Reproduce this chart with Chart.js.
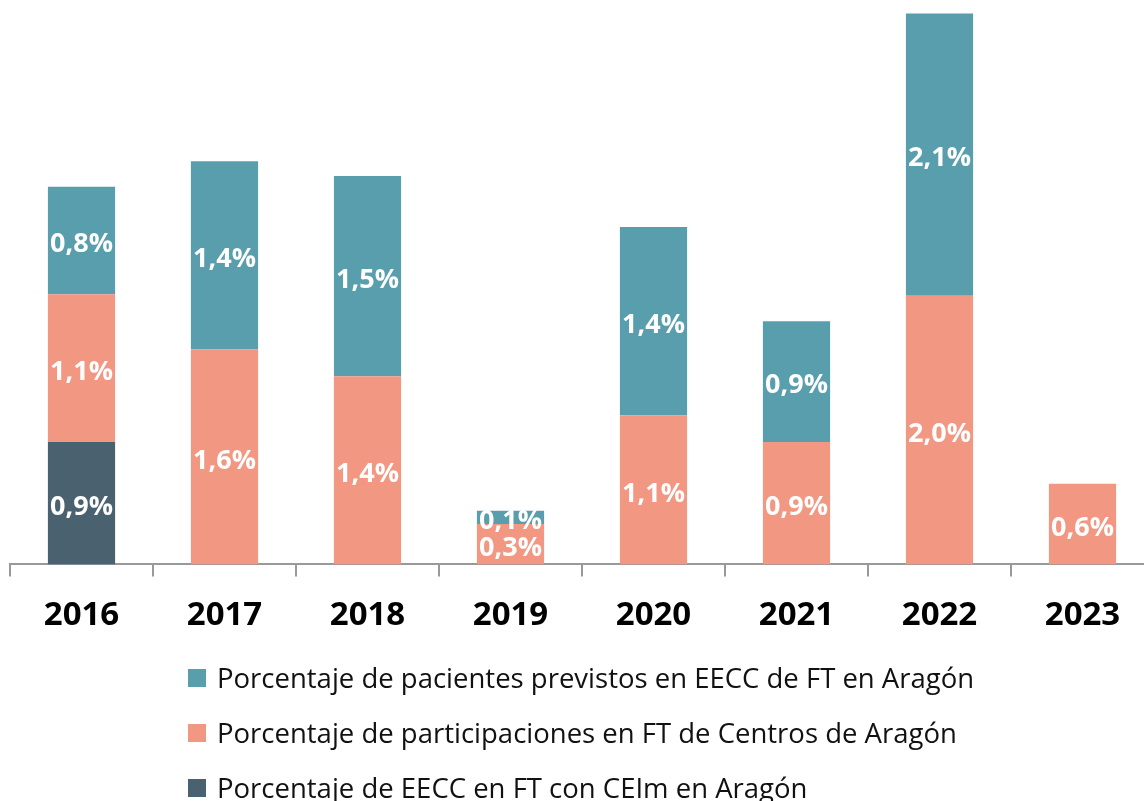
<!DOCTYPE html>
<html>
<head>
<meta charset="utf-8">
<script src="https://cdn.jsdelivr.net/npm/chart.js@4"></script>
<style>
  html, body { margin: 0; padding: 0; background: #fff; overflow: hidden; width: 1144px; height: 801px; }
  #wrap { position: absolute; left: 0; top: 0; width: 1154px; height: 663px; }
  #legend { position: absolute; left: 188px; top: 650px; font-family: "Open Sans", sans-serif; font-size: 27.5px; color: #111; }
  .item { height: 55px; display: flex; align-items: center; white-space: nowrap; }
  .box { width: 18px; height: 18px; margin-right: 11px; flex: none; }
</style>
</head>
<body>
<div id="wrap"><canvas id="barsChart" width="1154" height="663"></canvas></div>
<div id="legend"></div>
<script>
let years = ["2016", "2017", "2018", "2019", "2020", "2021", "2022", "2023"];
let ensayosCeim = [0.91, 0, 0, 0, 0, 0, 0, 0];
let participaciones = [1.10, 1.60, 1.40, 0.30, 1.11, 0.91, 2.00, 0.60];
let pacientes = [0.80, 1.40, 1.49, 0.10, 1.40, 0.90, 2.10, 0];

let labelsPlugin = {
  id: "segmentLabels",
  afterDatasetsDraw(chart) {
    let ctx = chart.ctx;
    ctx.save();
    ctx.font = "bold 27px 'Open Sans'";
    ctx.fillStyle = "#fff";
    ctx.textAlign = "center";
    ctx.textBaseline = "middle";
    chart.data.datasets.forEach((ds, i) => {
      chart.getDatasetMeta(i).data.forEach((bar, j) => {
        let v = ds.data[j];
        if (!v) return;
        let txt = v.toFixed(1).replace(".", ",") + "%";
        ctx.fillText(txt, bar.x, (bar.y + bar.base) / 2 + 4);
      });
    });
    ctx.restore();
  },
};

let barsCtx = document.getElementById("barsChart").getContext("2d");
let barsChart = new Chart(barsCtx, {
  type: "bar",
  plugins: [labelsPlugin],
  data: {
    labels: years,
    datasets: [
      {
        label: "Porcentaje de EECC en FT con CEIm en Aragón",
        backgroundColor: "#4A6170",
        data: ensayosCeim,
      },
      {
        label: "Porcentaje de participaciones en FT de Centros de Aragón",
        backgroundColor: "#F19782",
        data: participaciones,
      },
      {
        label: "Porcentaje de pacientes previstos en EECC de FT en Aragón",
        backgroundColor: "#589EAC",
        data: pacientes,
      },
    ],
  },
  options: {
    responsive: false,
    animation: false,
    barPercentage: 0.47,
    categoryPercentage: 1,
    layout: { padding: { left: 10, right: 0, top: 0, bottom: 9 } },
    plugins: { legend: { display: false }, tooltip: { enabled: false } },
    scales: {
      x: {
        stacked: true,
        border: { display: true, color: "#999", width: 2 },
        grid: { display: true, drawOnChartArea: false, drawTicks: true, tickLength: 12, color: "#999", lineWidth: 2 },
        ticks: { color: "#000", padding: 19, font: { family: "'Open Sans'", size: 33, weight: "bold" } },
      },
      y: { stacked: true, display: false, min: 0, max: 4.2 },
    },
  },
});

let legendEl = document.getElementById("legend");
barsChart.data.datasets.slice().reverse().forEach((ds) => {
  let row = document.createElement("div");
  row.className = "item";
  let box = document.createElement("span");
  box.className = "box";
  box.style.background = ds.backgroundColor;
  let txt = document.createElement("span");
  txt.textContent = ds.label;
  row.appendChild(box);
  row.appendChild(txt);
  legendEl.appendChild(row);
});
</script>
</body>
</html>
